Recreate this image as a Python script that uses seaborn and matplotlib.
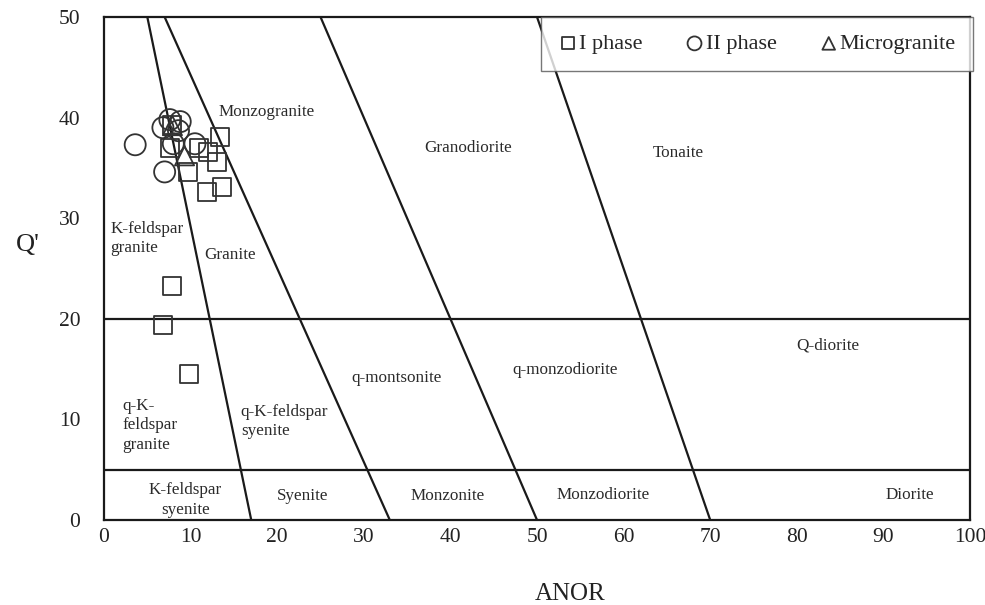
import matplotlib
matplotlib.use("Agg")
import matplotlib.pyplot as plt
import seaborn as sns
import pandas as pd

# Sample compositions (ANOR, Q')
phase1_anor = [7.6, 7.8, 9.7, 11.0, 12.0, 13.0, 13.4, 11.9, 13.6, 7.85, 6.8, 9.8]
phase1_q = [37.0, 39.3, 34.6, 37.0, 36.6, 35.6, 38.1, 32.6, 33.1, 23.3, 19.4, 14.5]

phase2_anor = [3.6, 7.0, 7.6, 8.8, 6.8, 8.0, 10.5, 8.6]
phase2_q = [37.3, 34.6, 39.8, 39.6, 39.0, 37.4, 37.4, 38.7]

micro_anor = [9.3, 7.9]
micro_q = [36.2, 39.2]

# Field boundaries: sloping lines (top ANOR at Q'=50, bottom ANOR at Q'=0)
sloped_top = [5, 7, 25, 50]
sloped_bottom = [17, 33, 50, 70]
q_levels = [20, 5]

field_names = ["Monzogranite", "Granodiorite", "Tonaite", "K-feldspar\ngranite", "Granite",
               "Q-diorite", "q-montsonite", "q-monzodiorite", "q-K-\nfeldspar\ngranite",
               "q-K-feldspar\nsyenite", "K-feldspar\nsyenite", "Syenite", "Monzonite",
               "Monzodiorite", "Diorite"]
field_x = [18.8, 42.1, 66.3, 0.7, 14.5, 83.6, 33.8, 53.2, 2.1, 15.8, 9.4, 22.9, 39.7, 57.6, 93.0]
field_y = [40.6, 37.0, 36.5, 28.0, 26.3, 17.3, 14.1, 14.9, 9.4, 9.8, 2.0, 2.4, 2.4, 2.5, 2.5]
field_ha = ["center", "center", "center", "left", "center", "center", "center", "center",
            "left", "left", "center", "center", "center", "center", "center"]

sns.set_theme(style="white")
plt.rcParams["font.family"] = ["Liberation Serif", "DejaVu Serif"]

fig = plt.figure(figsize=(9.85, 6.05), dpi=100)
ax = fig.add_axes([0.1056, 0.1405, 0.8792, 0.8314])

for top, bot in zip(sloped_top, sloped_bottom):
    ax.plot([top, bot], [50, 0], color="#1a1a1a", lw=1.6, zorder=1)
for q in q_levels:
    ax.axhline(q, color="#1a1a1a", lw=1.6, zorder=1)

df1 = pd.DataFrame({"ANOR": phase1_anor, "Q": phase1_q})
df2 = pd.DataFrame({"ANOR": phase2_anor, "Q": phase2_q})
df3 = pd.DataFrame({"ANOR": micro_anor, "Q": micro_q})

sns.scatterplot(data=df1, x="ANOR", y="Q", marker="s", s=170, facecolors="none",
                edgecolor="#333333", linewidth=1.3, label="I phase", ax=ax, zorder=3)
sns.scatterplot(data=df2, x="ANOR", y="Q", marker="o", s=230, facecolors="none",
                edgecolor="#333333", linewidth=1.3, label="II phase", ax=ax, zorder=3)
sns.scatterplot(data=df3, x="ANOR", y="Q", marker="^", s=190, facecolors="none",
                edgecolor="#333333", linewidth=1.3, label="Microgranite", ax=ax, zorder=3)

for name, x, y, ha in zip(field_names, field_x, field_y, field_ha):
    ax.text(x, y, name, ha=ha, va="center", fontsize=12.3, color="#2a2a2a",
            linespacing=1.3, zorder=2)

ax.set_xlim(0, 100)
ax.set_ylim(0, 50)
ax.set_xticks(range(0, 101, 10))
ax.set_yticks(range(0, 51, 10))
ax.tick_params(axis="both", length=0, labelsize=15.5, colors="#222222")
ax.tick_params(axis="x", pad=6)
ax.tick_params(axis="y", pad=17)
ax.set_xlabel("ANOR", fontsize=18, color="#222222")
ax.xaxis.set_label_coords(0.538, -0.125)
ax.set_ylabel("Q'", fontsize=19, color="#222222", rotation=0)
ax.yaxis.set_label_coords(-0.088, 0.547)
ax.yaxis.label.set_va("center")
for sp in ax.spines.values():
    sp.set_color("#1a1a1a")
    sp.set_linewidth(1.6)

leg = ax.legend(loc="upper right", bbox_to_anchor=(1.003, 1.0), ncol=3, fontsize=16,
                markerscale=0.66, handletextpad=0.05, columnspacing=1.9, handlelength=0.9,
                borderaxespad=0, frameon=True, fancybox=False, borderpad=0.75)
leg.get_frame().set_edgecolor("#555555")
leg.get_frame().set_linewidth(1.0)

fig.savefig("out.png", dpi=100)
